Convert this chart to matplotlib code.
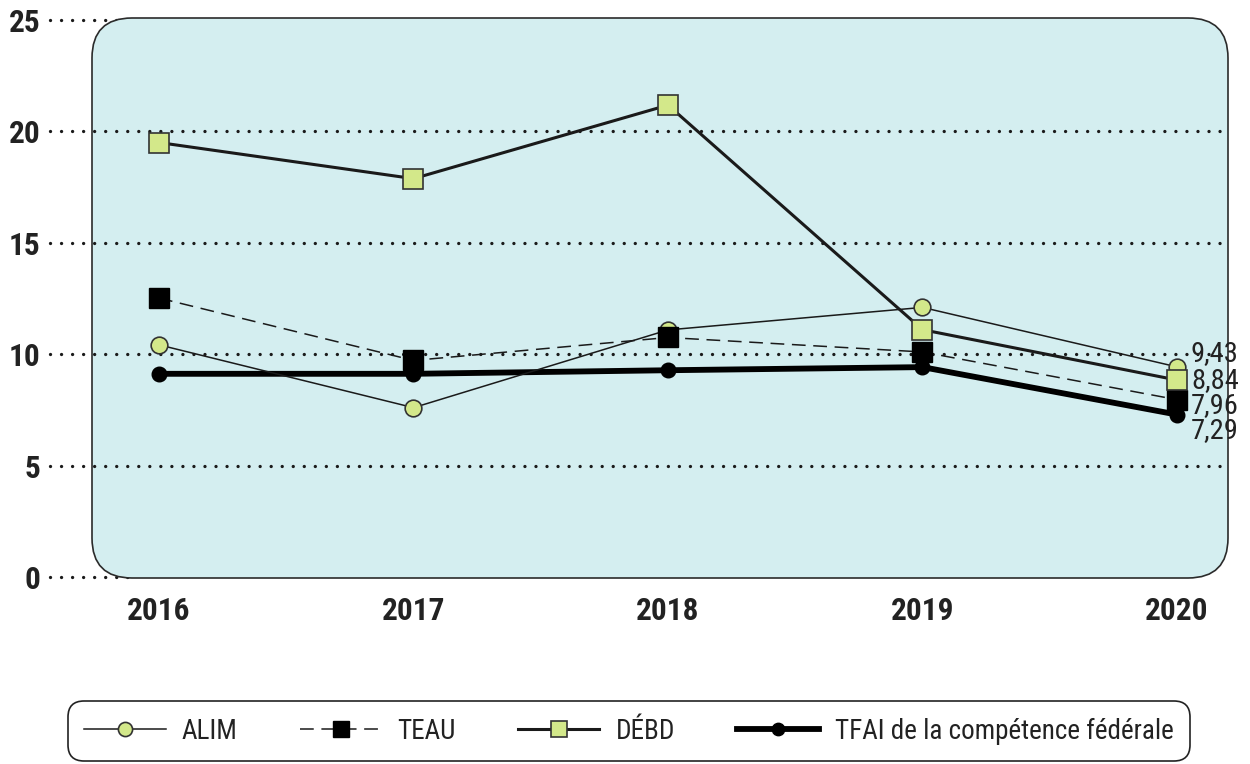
import numpy as np
import matplotlib
matplotlib.use("Agg")
import matplotlib.pyplot as plt
from matplotlib import font_manager as fm
from matplotlib.patches import FancyBboxPatch

have = {f.name for f in fm.fontManager.ttflist}
fam = [n for n in ["Roboto Condensed", "Archivo Narrow", "Barlow Semi Condensed"] if n in have] + ["DejaVu Sans"]
plt.rcParams.update({"font.family": fam})

# data
years = [2016, 2017, 2018, 2019, 2020]
alim = [10.42, 7.60, 11.09, 12.10, 9.43]
teau = [12.52, 9.72, 10.75, 10.10, 7.96]
debd = [19.50, 17.88, 21.18, 11.10, 8.84]
tfai = [9.12, 9.12, 9.28, 9.42, 7.29]
end_labels = ["9,43", "8,84", "7,96", "7,29"]
end_values = [alim[-1], debd[-1], teau[-1], tfai[-1]]
yticks = [0, 5, 10, 15, 20, 25]

GREEN = "#d3e88a"; BOX = "#d4eef0"; INK = "#1a1a1a"
W, H = 1250, 764
fig = plt.figure(figsize=(12.5, 7.64), dpi=100)
L, R, B, T = 50, 1228, 577, 20  # pixel frame of the axes
ax = fig.add_axes([L / W, 1 - B / H, (R - L) / W, (B - T) / H])
ax.set_facecolor("none")
px = 254.5  # pixels per year
ax.set_xlim(2016 - (159 - L) / px, 2020 + (R - 1177) / px)
ax.set_ylim(0, 25)
for s in ax.spines.values(): s.set_visible(False)

# rounded panel
aw, ah = R - L, B - T
box = FancyBboxPatch((42 / aw, -1 / ah), 1 - 42 / aw, 1 + 3 / ah,
                     boxstyle=f"round,pad=0,rounding_size={40 / aw}", mutation_aspect=aw / ah,
                     transform=ax.transAxes, facecolor=BOX, edgecolor="#2b2b2b", lw=1.2,
                     clip_on=False, zorder=1)
ax.add_patch(box)
for v in yticks:
    edge = v in (0, 25)
    ax.axhline(v, xmax=0.072 if edge else 1, color=INK, lw=2.4, ls=(0, (0.01, 3.3)),
               dash_capstyle="round", zorder=0.5 if edge else 1.5, clip_on=False)

ax.plot(years, tfai, color="black", lw=4.2, marker="o", ms=10.5, mfc="black", mec="black", zorder=3,
        label="TFAI de la compétence fédérale")
ax.plot(years, alim, color=INK, lw=1.1, marker="o", ms=12, mfc=GREEN, mec="#333", mew=1.2, zorder=4,
        label="ALIM")
ax.plot(years, teau, color=INK, lw=1.1, ls=(0, (9, 5)), marker="s", ms=14, mfc="black", mec="black", zorder=5,
        label="TEAU")
ax.plot(years, debd, color=INK, lw=2.2, marker="s", ms=14, mfc=GREEN, mec="#333", mew=1.2, zorder=6,
        label="DÉBD")

offs = [13, 0, -6, -16]
for lab, v, o in zip(end_labels, end_values, offs):
    ax.annotate(lab, (years[-1], v), xytext=(10, o * 0.72), textcoords="offset points",
                ha="left", va="center", fontsize=20.5, color="#222", zorder=7)

ax.set_yticks(yticks)
ax.set_xticks(years)
ax.tick_params(length=0)
ax.tick_params(axis="y", pad=7)
ax.tick_params(axis="x", pad=14)
for t in ax.get_yticklabels() + ax.get_xticklabels():
    t.set_fontsize(22.5); t.set_fontweight("bold"); t.set_color("#222")

h, l = ax.get_legend_handles_labels()
order = [1, 2, 3, 0]
leg = fig.legend([h[i] for i in order], [l[i] for i in order], loc="center",
                 bbox_to_anchor=(629 / W, 1 - 731 / H), ncol=4, fontsize=19.5, frameon=True,
                 handlelength=3.0, handletextpad=0.6, columnspacing=2.3, borderpad=0.6, markerscale=0.85)
fr = leg.get_frame()
fr.set_edgecolor("#222"); fr.set_linewidth(1.2); fr.set_facecolor("white"); fr.set_alpha(1)
fr.set_boxstyle("round,pad=0,rounding_size=0.6")
for t in leg.get_texts(): t.set_color("#222")

fig.savefig("out.png", dpi=100)
